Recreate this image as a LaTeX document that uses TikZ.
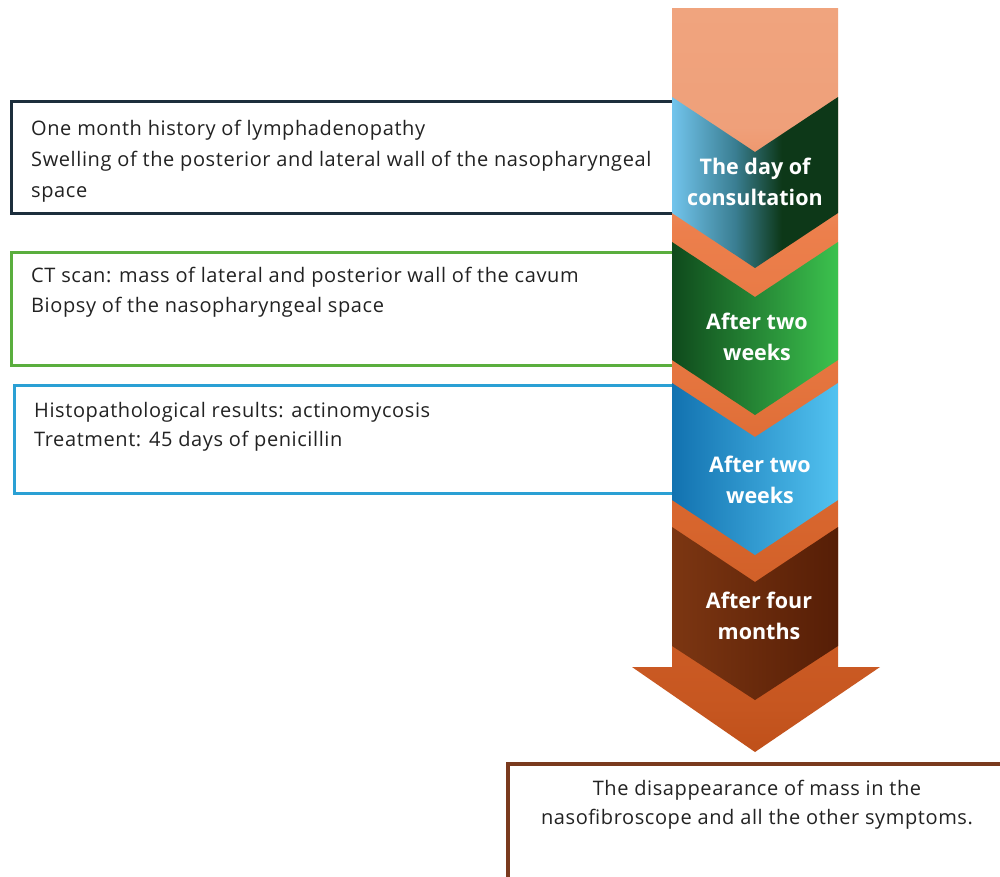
\documentclass[tikz,border=0pt]{standalone}
\usepackage{fontspec}
\setmainfont{Open Sans}
\newfontfamily\boxfont{Open Sans}[LetterSpace=3]
\definecolor{navyb}{HTML}{1C2E3C}
\definecolor{greenb}{HTML}{5AAE3E}
\definecolor{blueb}{HTML}{2AA0D4}
\definecolor{brownb}{HTML}{7A3A1E}
\definecolor{txt}{HTML}{222222}
\definecolor{sA}{HTML}{BF501A}
\definecolor{sB}{HTML}{C65620}
\definecolor{sC}{HTML}{D8662E}
\definecolor{sD}{HTML}{E67640}
\definecolor{sE}{HTML}{EC7F4C}
\definecolor{sF}{HTML}{EFA07A}
\definecolor{sG}{HTML}{F0A47E}
\definecolor{cAl}{HTML}{72C4EC}
\definecolor{cAm}{HTML}{3A7E92}
\definecolor{cAr}{HTML}{0D3818}
\definecolor{cBl}{HTML}{0F4A1C}
\definecolor{cBr}{HTML}{3CC24E}
\definecolor{cCl}{HTML}{1272B0}
\definecolor{cCr}{HTML}{52C2F0}
\definecolor{cDl}{HTML}{7C3612}
\definecolor{cDr}{HTML}{561E06}
\pgfdeclareverticalshading{arrowsh}{100bp}{color(0bp)=(sA); color(25bp)=(sA); color(28bp)=(sB); color(41bp)=(sC); color(51bp)=(sD); color(60bp)=(sE); color(67bp)=(sF); color(75bp)=(sG); color(100bp)=(sG)}
\pgfdeclarehorizontalshading{chevAsh}{100bp}{color(0bp)=(cAl); color(25bp)=(cAl); color(44bp)=(cAm); color(58bp)=(cAr); color(100bp)=(cAr)}
\begin{document}
\begin{tikzpicture}[x=1pt,y=-1pt]
\tikzset{
  infobox/.style={draw=#1, line width=3pt, fill=white, anchor=north west, inner sep=0pt},
  infotext/.style={anchor=north west, align=left, inner sep=0pt, text=txt},
  chevlabel/.style={align=center, inner sep=0pt, text=white, font=\fontsize{21.5}{31}\selectfont\bfseries},
}
\useasboundingbox (0,0) rectangle (1000,876);
\fill[white] (0,0) rectangle (1000,876);

% left boxes
\node[infobox=navyb, minimum width=664, minimum height=112] (b1) at (10,100) {};
\node[infotext, font=\boxfont\fontsize{20}{31}\selectfont] (t1) at (31,120) {One month history of lymphadenopathy\\Swelling of the posterior and lateral wall of the nasopharyngeal\\space};
\node[infobox=greenb, minimum width=664, minimum height=113] (b2) at (10,251) {};
\node[infotext, font=\boxfont\fontsize{20}{30}\selectfont] (t2) at (31,267) {CT scan: mass of lateral and posterior wall of the cavum\\Biopsy of the nasopharyngeal space};
\node[infobox=blueb, minimum width=662, minimum height=108] (b3) at (13,384) {};
\node[infotext, font=\boxfont\fontsize{20}{29}\selectfont] (t3) at (34,402) {Histopathological results: actinomycosis\\Treatment: 45 days of penicillin};

% big arrow
\shade[shading=arrowsh]
  (672,8) -- (838,8) -- (838,667) -- (880,667) -- (755,752) -- (632,667) -- (672,667) -- cycle;

% chevrons
\shade[shading=chevAsh]
  (672,97) -- (755,152) -- (838,97) -- (838,213) -- (755,268) -- (672,213) -- cycle;
\shade[left color=cBl, right color=cBr]
  (672,242) -- (755,297) -- (838,242) -- (838,360) -- (755,415) -- (672,360) -- cycle;
\shade[left color=cCl, right color=cCr]
  (672,383) -- (755,437) -- (838,383) -- (838,500) -- (755,555) -- (672,500) -- cycle;
\shade[left color=cDl, right color=cDr]
  (672,527) -- (755,582) -- (838,527) -- (838,646) -- (755,700) -- (672,646) -- cycle;

\node[chevlabel] (c1) at (755,182) {The day of\\consultation};
\node[chevlabel] (c2) at (757,337) {After two\\weeks};
\node[chevlabel] (c3) at (760,480) {After two\\weeks};
\node[chevlabel] (c4) at (759,616) {After four\\months};

% result box
\node[infobox=brownb, line width=4pt, minimum width=510, minimum height=130] (b4) at (506,762) {};
\node[anchor=north, align=center, inner sep=0pt, text=txt, font=\boxfont\fontsize{20}{29}\selectfont] (t4) at (757,780) {The disappearance of mass in the\\nasofibroscope and all the other symptoms.};
\end{tikzpicture}
\end{document}
